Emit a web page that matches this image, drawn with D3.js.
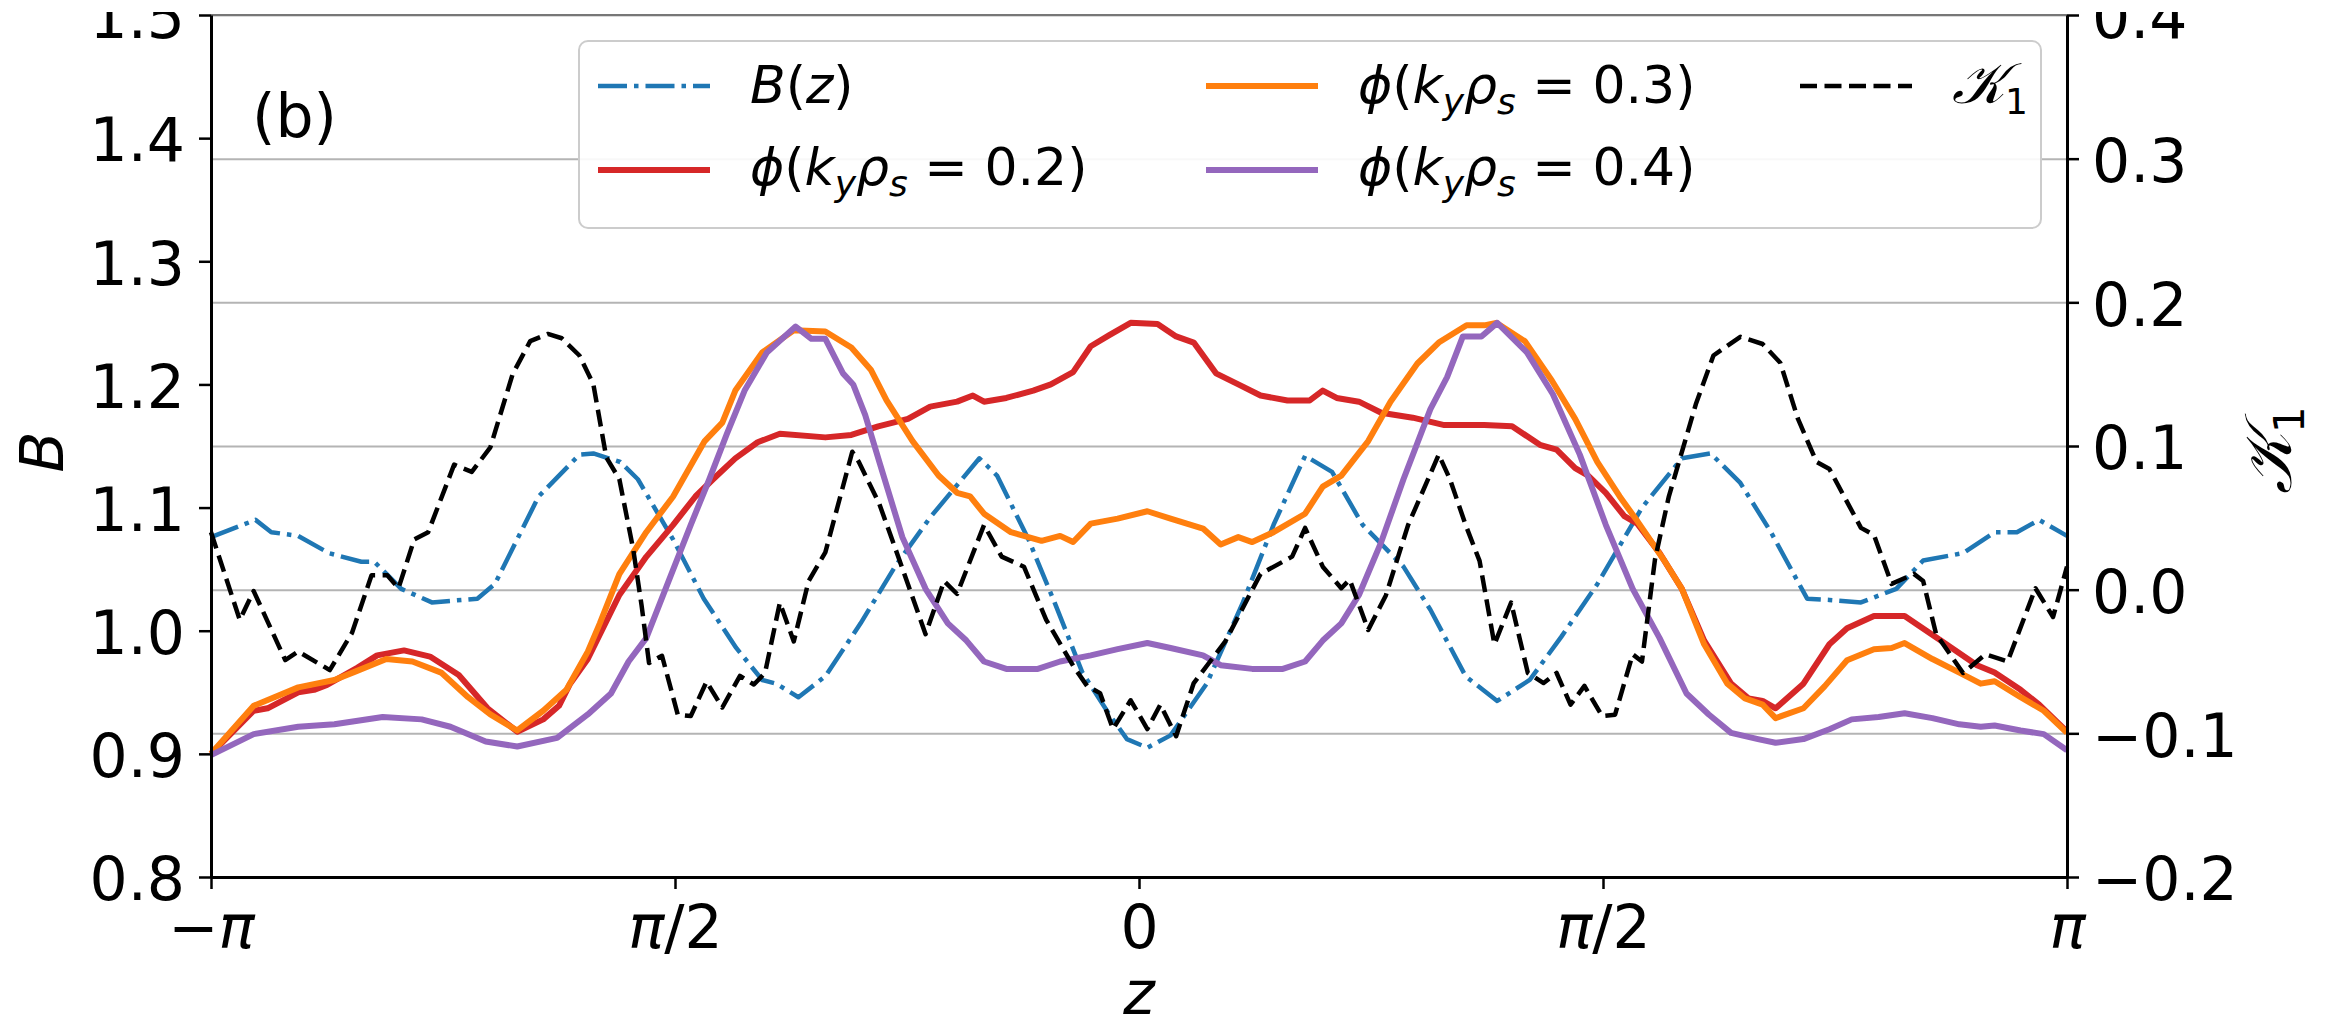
<!DOCTYPE html>
<html>
<head>
    <title>B(z), phi and K1 along z</title>
    <script src="https://d3js.org/d3.v7.min.js"></script>
    <style>
        body { margin: 0; background: #fff; }
        svg text { font-family: 'DejaVu Sans', sans-serif; fill: #000; }
        .axis text { font-size: 60px; }
        .axis .tick line { stroke: #000; stroke-width: 2.5px; }
        .axis path.domain { stroke: #000; stroke-width: 3px; }
        .grid line { stroke: #b4b4b4; stroke-width: 2px; }
        .grid path.domain { display: none; }
    </style>
</head>
<body>
    <svg id="chart" width="2326" height="1020"></svg>

    <script>
        // every point is [z / pi, value]
        var bField = [[-1.0,1.076],[-0.952,1.090],[-0.935,1.080],[-0.906,1.077],[-0.873,1.063],[-0.838,1.056],[-0.824,1.056],[-0.795,1.034],[-0.762,1.023],[-0.713,1.026],[-0.694,1.038],[-0.647,1.109],[-0.603,1.143],[-0.588,1.144],[-0.559,1.137],[-0.540,1.123],[-0.502,1.074],[-0.469,1.026],[-0.434,0.986],[-0.406,0.960],[-0.391,0.957],[-0.367,0.946],[-0.338,0.963],[-0.300,1.006],[-0.263,1.052],[-0.225,1.092],[-0.172,1.140],[-0.153,1.126],[-0.119,1.074],[-0.091,1.023],[-0.061,0.966],[-0.032,0.932],[-0.013,0.912],[0.009,0.905],[0.034,0.915],[0.073,0.957],[0.112,1.023],[0.145,1.086],[0.179,1.142],[0.208,1.129],[0.241,1.086],[0.285,1.052],[0.314,1.017],[0.352,0.963],[0.386,0.943],[0.421,0.960],[0.455,0.995],[0.494,1.038],[0.542,1.100],[0.585,1.140],[0.616,1.144],[0.648,1.120],[0.681,1.080],[0.720,1.026],[0.744,1.025],[0.778,1.023],[0.816,1.034],[0.845,1.057],[0.888,1.063],[0.922,1.080],[0.946,1.080],[0.970,1.090],[1.0,1.077]];

        var phi02 = [[-1.0,0.900],[-0.954,0.935],[-0.939,0.937],[-0.906,0.950],[-0.889,0.952],[-0.875,0.956],[-0.842,0.970],[-0.821,0.980],[-0.792,0.984],[-0.764,0.979],[-0.733,0.964],[-0.702,0.937],[-0.670,0.918],[-0.642,0.928],[-0.625,0.939],[-0.613,0.957],[-0.594,0.977],[-0.560,1.029],[-0.531,1.060],[-0.502,1.086],[-0.478,1.109],[-0.459,1.123],[-0.435,1.140],[-0.411,1.153],[-0.387,1.160],[-0.338,1.157],[-0.310,1.159],[-0.281,1.166],[-0.249,1.172],[-0.225,1.182],[-0.196,1.186],[-0.179,1.191],[-0.167,1.186],[-0.143,1.189],[-0.114,1.195],[-0.095,1.200],[-0.071,1.210],[-0.052,1.231],[-0.032,1.240],[-0.009,1.250],[0.020,1.249],[0.040,1.239],[0.059,1.234],[0.083,1.209],[0.107,1.200],[0.131,1.191],[0.160,1.187],[0.184,1.187],[0.198,1.195],[0.213,1.189],[0.237,1.186],[0.261,1.177],[0.295,1.173],[0.329,1.167],[0.372,1.167],[0.402,1.166],[0.432,1.151],[0.450,1.147],[0.470,1.132],[0.484,1.126],[0.503,1.112],[0.523,1.093],[0.537,1.087],[0.561,1.063],[0.585,1.034],[0.609,0.992],[0.638,0.957],[0.657,0.945],[0.672,0.943],[0.686,0.937],[0.716,0.957],[0.744,0.989],[0.763,1.002],[0.792,1.012],[0.825,1.012],[0.864,0.992],[0.903,0.972],[0.922,0.966],[0.950,0.952],[0.970,0.940],[1.0,0.918]];

        var phi03 = [[-1.0,0.900],[-0.954,0.939],[-0.906,0.954],[-0.867,0.960],[-0.844,0.967],[-0.811,0.977],[-0.783,0.975],[-0.752,0.966],[-0.723,0.946],[-0.699,0.932],[-0.670,0.919],[-0.642,0.935],[-0.617,0.952],[-0.594,0.983],[-0.581,1.006],[-0.560,1.046],[-0.531,1.080],[-0.502,1.109],[-0.468,1.154],[-0.449,1.169],[-0.435,1.195],[-0.406,1.226],[-0.372,1.244],[-0.338,1.243],[-0.310,1.230],[-0.289,1.212],[-0.272,1.187],[-0.244,1.154],[-0.216,1.126],[-0.196,1.112],[-0.182,1.109],[-0.167,1.095],[-0.138,1.080],[-0.105,1.073],[-0.085,1.077],[-0.071,1.072],[-0.052,1.087],[-0.023,1.091],[0.009,1.097],[0.034,1.091],[0.069,1.083],[0.088,1.070],[0.107,1.076],[0.122,1.072],[0.145,1.080],[0.179,1.095],[0.198,1.117],[0.218,1.126],[0.247,1.154],[0.271,1.186],[0.300,1.217],[0.323,1.234],[0.353,1.248],[0.372,1.248],[0.385,1.250],[0.416,1.235],[0.445,1.203],[0.470,1.172],[0.494,1.137],[0.518,1.109],[0.537,1.089],[0.566,1.057],[0.585,1.034],[0.609,0.989],[0.634,0.957],[0.653,0.945],[0.672,0.940],[0.686,0.929],[0.716,0.937],[0.739,0.955],[0.763,0.976],[0.792,0.985],[0.811,0.986],[0.825,0.990],[0.855,0.977],[0.884,0.966],[0.907,0.957],[0.922,0.959],[0.950,0.946],[0.975,0.935],[1.0,0.917]];

        var phi04 = [[-1.0,0.899],[-0.954,0.916],[-0.906,0.922],[-0.867,0.924],[-0.815,0.930],[-0.773,0.928],[-0.742,0.922],[-0.704,0.910],[-0.670,0.906],[-0.627,0.913],[-0.594,0.932],[-0.569,0.949],[-0.550,0.975],[-0.531,0.994],[-0.507,1.040],[-0.483,1.086],[-0.463,1.123],[-0.444,1.160],[-0.425,1.195],[-0.401,1.226],[-0.370,1.247],[-0.353,1.237],[-0.338,1.237],[-0.319,1.209],[-0.308,1.200],[-0.295,1.175],[-0.279,1.135],[-0.255,1.076],[-0.230,1.034],[-0.206,1.006],[-0.186,0.992],[-0.167,0.975],[-0.143,0.969],[-0.109,0.969],[-0.085,0.975],[-0.052,0.980],[-0.023,0.985],[0.009,0.990],[0.034,0.986],[0.069,0.980],[0.088,0.972],[0.122,0.969],[0.155,0.969],[0.179,0.975],[0.198,0.992],[0.218,1.006],[0.237,1.029],[0.261,1.072],[0.285,1.123],[0.314,1.180],[0.332,1.206],[0.349,1.239],[0.369,1.239],[0.386,1.250],[0.418,1.226],[0.446,1.192],[0.475,1.143],[0.503,1.086],[0.532,1.034],[0.561,0.994],[0.590,0.949],[0.614,0.932],[0.638,0.917],[0.667,0.912],[0.686,0.909],[0.716,0.912],[0.744,0.920],[0.768,0.928],[0.797,0.930],[0.825,0.933],[0.855,0.929],[0.884,0.924],[0.907,0.922],[0.922,0.923],[0.950,0.919],[0.975,0.916],[1.0,0.903]];

        var kappa1 = [[-1.0,0.040],[-0.969,-0.021],[-0.954,-0.001],[-0.920,-0.049],[-0.906,-0.043],[-0.872,-0.056],[-0.848,-0.030],[-0.827,0.010],[-0.810,0.010],[-0.798,0.001],[-0.781,0.035],[-0.766,0.040],[-0.738,0.087],[-0.719,0.082],[-0.699,0.099],[-0.675,0.150],[-0.656,0.173],[-0.637,0.178],[-0.622,0.175],[-0.603,0.163],[-0.588,0.143],[-0.574,0.092],[-0.560,0.077],[-0.545,0.028],[-0.536,-0.011],[-0.528,-0.051],[-0.514,-0.046],[-0.497,-0.087],[-0.483,-0.088],[-0.466,-0.064],[-0.449,-0.082],[-0.430,-0.060],[-0.415,-0.066],[-0.403,-0.058],[-0.387,-0.009],[-0.372,-0.036],[-0.356,0.006],[-0.338,0.026],[-0.309,0.096],[-0.302,0.089],[-0.280,0.060],[-0.260,0.024],[-0.230,-0.031],[-0.210,0.006],[-0.196,-0.003],[-0.167,0.045],[-0.148,0.023],[-0.124,0.016],[-0.100,-0.021],[-0.071,-0.053],[-0.056,-0.067],[-0.042,-0.072],[-0.028,-0.097],[-0.009,-0.077],[0.009,-0.097],[0.023,-0.080],[0.040,-0.102],[0.059,-0.065],[0.093,-0.036],[0.131,0.011],[0.165,0.023],[0.179,0.043],[0.198,0.016],[0.218,0.001],[0.227,0.007],[0.247,-0.028],[0.266,-0.004],[0.290,0.045],[0.323,0.094],[0.335,0.077],[0.352,0.045],[0.367,0.020],[0.383,-0.038],[0.401,-0.009],[0.419,-0.058],[0.436,-0.065],[0.450,-0.058],[0.465,-0.080],[0.480,-0.067],[0.499,-0.088],[0.513,-0.087],[0.532,-0.045],[0.542,-0.050],[0.556,0.021],[0.571,0.065],[0.581,0.087],[0.600,0.129],[0.619,0.163],[0.648,0.176],[0.672,0.171],[0.691,0.158],[0.710,0.119],[0.730,0.089],[0.744,0.084],[0.778,0.043],[0.792,0.038],[0.811,0.004],[0.835,0.011],[0.845,0.006],[0.859,-0.031],[0.888,-0.058],[0.912,-0.045],[0.936,-0.050],[0.966,0.001],[0.985,-0.019],[1.0,0.016]];

        var leftTicks = [0.8, 0.9, 1.0, 1.1, 1.2, 1.3, 1.4, 1.5];
        var rightTicks = [-0.2, -0.1, 0.0, 0.1, 0.2, 0.3, 0.4];
        var zTicks = [-1, -0.5, 0, 0.5, 1];
        var zTickLabels = ["−π", "π/2", "0", "π/2", "π"];

        // legend labels as [piece, style]
        var labelB = [["B","i"],["(","r"],["z","i"],[")","r"]];
        var label02 = [[" ","r"],["ϕ","i"],["(","r"],["k","i"],["y","sub"],["ρ","i"],["s","sub"],[" = 0.2)","r"]];
        var label03 = [["ϕ","i"],["(","r"],["k","i"],["y","sub"],["ρ","i"],["s","sub"],[" = 0.3)","r"]];
        var label04 = [["ϕ","i"],["(","r"],["k","i"],["y","sub"],["ρ","i"],["s","sub"],[" = 0.4)","r"]];
        var labelK = [["𝒦","cal"],["1","subr"]];

        var svg = d3.select("#chart");
        svg.append("rect").attr("width", 2326).attr("height", 1020).attr("fill", "#fff");

        var x = d3.scaleLinear().domain([-Math.PI, Math.PI]).range([211, 2067]);
        var yL = d3.scaleLinear().domain([0.8, 1.5]).range([877, 15]);
        var yR = d3.scaleLinear().domain([-0.2, 0.4]).range([877, 15]);

        var series = [
            { pts: bField, y: yL, color: "#1f77b4", width: 4.5, dash: "29,7,4.5,7", label: labelB, col: 0, row: 0 },
            { pts: phi02, y: yL, color: "#d62728", width: 6, dash: null, label: label02, col: 0, row: 1 },
            { pts: phi03, y: yL, color: "#ff7f0e", width: 6, dash: null, label: label03, col: 1, row: 0 },
            { pts: phi04, y: yL, color: "#9467bd", width: 6, dash: null, label: label04, col: 1, row: 1 },
            { pts: kappa1, y: yR, color: "#000000", width: 4.5, dash: "17,7.5", label: labelK, col: 2, row: 0 }
        ];

        function writeMath(textSel, parts, size)
        {
            var shift = Math.round(size * 0.22);
            var down = false;
            parts.forEach(function(p)
            {
                var ts = textSel.append("tspan").text(p[0]);
                var st = p[1];
                if (st === "i" || st === "sub") ts.attr("font-style", "italic");
                if (st === "cal") ts.attr("font-family", "'DejaVu Serif', serif").attr("font-style", "italic")
                                    .attr("font-size", Math.round(size * 1.1));
                if (st === "sub" || st === "subr")
                {
                    ts.attr("font-size", Math.round(size * 0.7)).attr("dy", down ? 0 : shift);
                    down = true;
                }
                else if (down)
                {
                    ts.attr("dy", -shift);
                    down = false;
                }
            });
        }

        // grid from the right axis ticks
        svg.append("g").attr("class", "grid")
            .attr("transform", "translate(2067,0)")
            .call(d3.axisLeft(yR).tickValues(rightTicks).tickSize(1856).tickFormat(""));

        // curves
        series.forEach(function(s)
        {
            var line = d3.line()
                .x(function(d) { return x(d[0] * Math.PI); })
                .y(function(d) { return s.y(d[1]); });
            svg.append("path")
                .datum(s.pts)
                .attr("d", line)
                .attr("fill", "none")
                .attr("stroke", s.color)
                .attr("stroke-width", s.width)
                .attr("stroke-linejoin", "round")
                .attr("stroke-dasharray", s.dash);
        });

        // top spine (cropped in the original)
        svg.append("line").attr("x1", 211).attr("x2", 2067).attr("y1", 15).attr("y2", 15)
            .attr("stroke", "#777").attr("stroke-width", 2);

        // axes
        var axL = svg.append("g").attr("class", "axis").attr("color", "#000")
            .attr("transform", "translate(211,0)")
            .call(d3.axisLeft(yL).tickValues(leftTicks).tickFormat(d3.format(".1f"))
                .tickSize(12).tickSizeOuter(0).tickPadding(14));
        axL.selectAll(".tick text").attr("dy", "0.38em");

        var axR = svg.append("g").attr("class", "axis").attr("color", "#000")
            .attr("transform", "translate(2067,0)")
            .call(d3.axisRight(yR).tickValues(rightTicks).tickFormat(d3.format(".1f"))
                .tickSize(12).tickSizeOuter(0).tickPadding(13));
        axR.selectAll(".tick text").attr("dy", "0.38em");

        var axB = svg.append("g").attr("class", "axis").attr("color", "#000")
            .attr("transform", "translate(0,877)")
            .call(d3.axisBottom(x).tickValues(zTicks.map(function(v) { return v * Math.PI; }))
                .tickFormat(function(d, i) { return zTickLabels[i]; })
                .tickSize(12).tickSizeOuter(0).tickPadding(16));

        axB.selectAll(".tick text").each(function(d, i)
        {
            var t = d3.select(this);
            var s = zTickLabels[i];
            t.text(null);
            Array.from(s).forEach(function(ch)
            {
                t.append("tspan").text(ch).attr("font-style", ch === "π" ? "italic" : null);
            });
        });

        // axis labels
        svg.append("text").attr("x", 1139).attr("y", 1014).attr("text-anchor", "middle")
            .attr("font-size", 60).attr("font-style", "italic").text("z");

        svg.append("text").attr("transform", "translate(63,452) rotate(-90)")
            .attr("text-anchor", "middle").attr("font-size", 60).attr("font-style", "italic").text("B");

        var kLab = svg.append("text").attr("transform", "translate(2291,450) rotate(-90)")
            .attr("text-anchor", "middle").attr("font-size", 60);
        writeMath(kLab, labelK, 60);

        svg.append("text").attr("x", 252).attr("y", 137).attr("font-size", 60).text("(b)");

        // legend
        var lg = svg.append("g");
        lg.append("rect").attr("x", 579).attr("y", 41).attr("width", 1462).attr("height", 187)
            .attr("rx", 9).attr("fill", "#fff").attr("fill-opacity", 0.9)
            .attr("stroke", "#cccccc").attr("stroke-width", 2);

        var colX = [598, 1206, 1800];
        var rowY = [86, 170];
        var rowBase = [103, 185];

        series.forEach(function(s)
        {
            var x0 = colX[s.col];
            lg.append("line")
                .attr("x1", x0).attr("x2", x0 + 112)
                .attr("y1", rowY[s.row]).attr("y2", rowY[s.row])
                .attr("stroke", s.color).attr("stroke-width", s.width)
                .attr("stroke-dasharray", s.dash);
            var t = lg.append("text").attr("x", x0 + 152).attr("y", rowBase[s.row]).attr("font-size", 52);
            writeMath(t, s.label, 52);
        });

        // the original picture is cropped just above its top spine
        svg.append("rect").attr("x", 0).attr("y", 0).attr("width", 2326).attr("height", 12).attr("fill", "#fff");
    </script>
</body>
</html>
